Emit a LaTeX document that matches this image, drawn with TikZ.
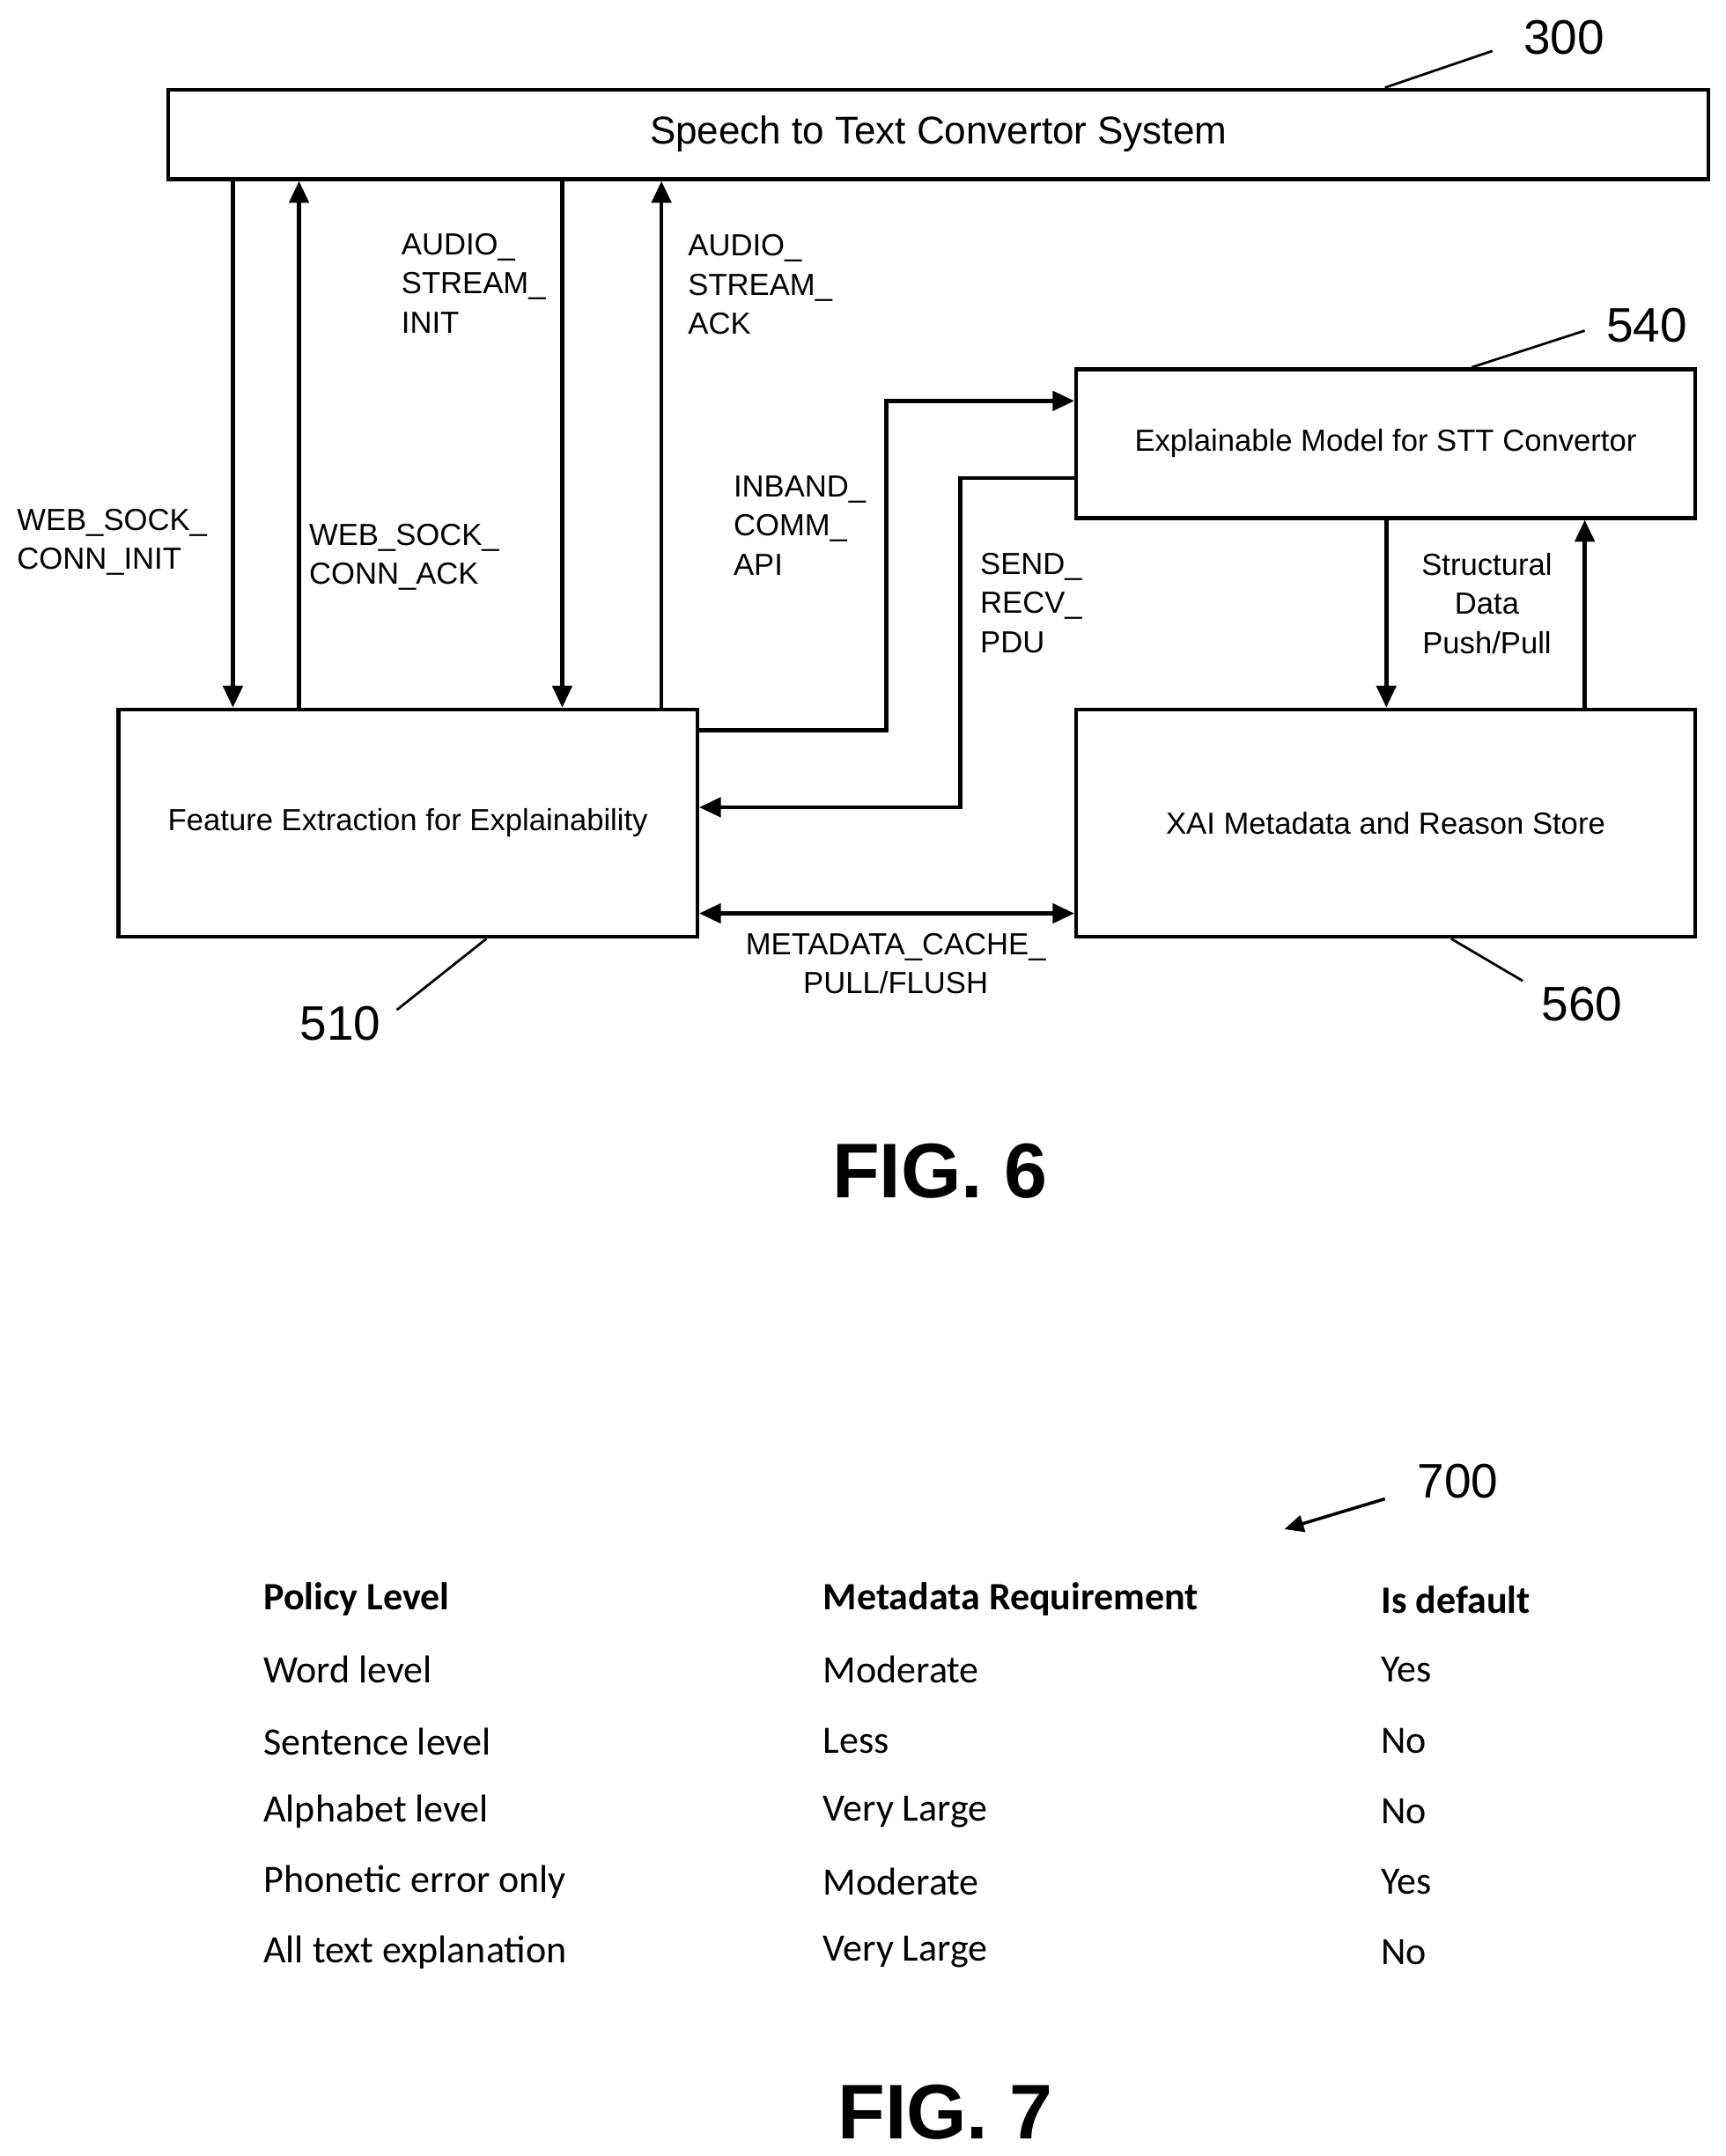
\documentclass[tikz,border=0pt]{standalone}
\usepackage{fontspec}
\setmainfont{Liberation Sans}
\newfontfamily\tabfont{Carlito}
\usetikzlibrary{arrows.meta}
\tikzstyle{block} = [draw=black, line width=1.6pt]
\tikzstyle{arrow} = [line width=1.7pt,-{Triangle[length=9pt,width=8pt]}]
\tikzstyle{lead} = [line width=1pt]
\tikzstyle{lbl} = [anchor=north west, align=left, inner sep=0pt, font=\fontsize{12.6}{16.2}\selectfont]
\tikzstyle{refnum} = [font=\fontsize{20}{24}\selectfont]
\tikzstyle{cell} = [anchor=west, inner sep=0pt, font=\tabfont\fontsize{16}{19}\selectfont]
\begin{document}
\begin{tikzpicture}[x=0.02cm, y=-0.02cm]
\useasboundingbox (0,0) rectangle (1252,1565);
% blocks
\node (stt) [block, minimum width=22.36cm, minimum height=1.3cm, font=\fontsize{16}{19}\selectfont] at (681,97.5) {Speech to Text Convertor System};
\node (xm) [block, minimum width=8.98cm, minimum height=2.16cm, font=\fontsize{12.6}{15}\selectfont] at (1005.5,322) {Explainable Model for STT Convertor};
\node (fe) [block, minimum width=8.4cm, minimum height=3.3cm, font=\fontsize{12.6}{15}\selectfont] at (296,597.5) {Feature Extraction for Explainability};
\node (st) [block, minimum width=8.98cm, minimum height=3.3cm, font=\fontsize{12.6}{15}\selectfont] at (1005.5,597.5) {XAI Metadata and Reason Store};

% reference numbers
\node (n300) [refnum] at (1135,27) {300};
\node (n540) [refnum] at (1195,236) {540};
\node (n510) [refnum] at (247,743) {510};
\node (n560) [refnum] at (1148,729) {560};
\coordinate (c300) at (1083,37);
\coordinate (c540) at (1150,240);
\coordinate (c510) at (288,733);
\coordinate (c560) at (1105,712);
\draw [lead] (c300) -- (stt.north -| 1005,0);
\draw [lead] (c540) -- (xm.north -| 1068,0);
\draw [lead] (c510) -- (fe.south -| 353,0);
\draw [lead] (c560) -- (st.south -| 1053,0);

% STT <-> feature extraction
\draw [arrow] (stt.south -| 169,0) -- (fe.north -| 169,0);
\draw [arrow] (fe.north -| 217,0) -- (stt.south -| 217,0);
\draw [arrow] (stt.south -| 408,0) -- (fe.north -| 408,0);
\draw [arrow] (fe.north -| 480,0) -- (stt.south -| 480,0);
\node (l1) [lbl] at (12,369) {WEB\_SOCK\_\\CONN\_INIT};
\node (l2) [lbl] at (224,380) {WEB\_SOCK\_\\CONN\_ACK};
\node (l3) [lbl] at (291,169) {AUDIO\_\\STREAM\_\\INIT};
\node (l4) [lbl] at (499,170) {AUDIO\_\\STREAM\_\\ACK};

% feature extraction <-> model
\draw [arrow] (fe.east |- 0,530) -| (643,291) -- (xm.west |- 0,291);
\draw [arrow] (xm.west |- 0,347) -| (697,586) -- (fe.east |- 0,586);
\node (l5) [lbl] at (532,345) {INBAND\_\\COMM\_\\API};
\node (l6) [lbl] at (711,401) {SEND\_\\RECV\_\\PDU};

% model <-> store
\draw [arrow] (xm.south -| 1006,0) -- (st.north -| 1006,0);
\draw [arrow] (st.north -| 1150,0) -- (xm.south -| 1150,0);
\node (l7) [lbl, anchor=north, align=center] at (1079,401) {Structural\\Data\\Push/Pull};

% feature extraction <-> store
\draw [arrow, {Triangle[length=9pt,width=8pt]}-{Triangle[length=9pt,width=8pt]}] (fe.east |- 0,663) -- (st.west |- 0,663);
\node (l8) [lbl, anchor=north, align=center] at (650,677) {METADATA\_CACHE\_\\PULL/FLUSH};

\node (fig6) [font=\bfseries\fontsize{32}{36}\selectfont] at (682,850) {FIG. 6};

% table
\node (n700) [refnum] at (1058,1075) {700};
\coordinate (c700) at (1005,1088);
\draw [line width=1.3pt, -{Triangle[length=8pt,width=7pt]}] (c700) -- (932,1110);
\foreach \y/\a/\b/\c in {1212/Word level/Moderate/Yes, 1264/Sentence level/Less/No, 1315/Alphabet level/Very Large/No, 1366/Phonetic error only/Moderate/Yes, 1417/All text explanation/Very Large/No} {
  \node [cell] at (191,\y) {\a};
  \node [cell] at (597,\y) {\b};
  \node [cell] at (1002,\y) {\c};
}
\node (h1) [cell, font=\tabfont\bfseries\fontsize{16}{19}\selectfont] at (191,1161) {Policy Level};
\node (h2) [cell, font=\tabfont\bfseries\fontsize{16}{19}\selectfont] at (597,1161) {Metadata Requirement};
\node (h3) [cell, font=\tabfont\bfseries\fontsize{16}{19}\selectfont] at (1002,1161) {Is default};

\node (fig7) [font=\bfseries\fontsize{32}{36}\selectfont] at (686,1533) {FIG. 7};
\end{tikzpicture}
\end{document}
